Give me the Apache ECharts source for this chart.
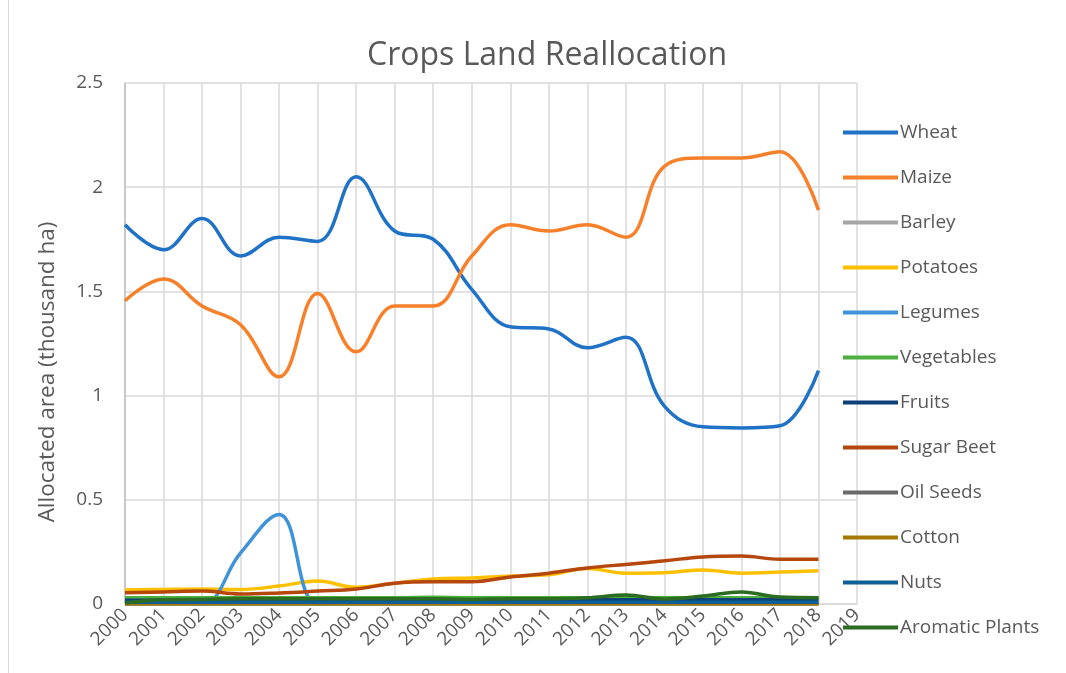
<!DOCTYPE html>
<html>
<head>
<meta charset="utf-8">
<script src="https://cdn.jsdelivr.net/npm/echarts@6/dist/echarts.min.js"></script>
<style>
  html, body { margin: 0; padding: 0; background: #fff; }
  #chart { width: 1066px; height: 673px; }
</style>
</head>
<body>
<div id="chart"></div>
<script>
var years = ['2000', '2001', '2002', '2003', '2004', '2005', '2006', '2007', '2008', '2009',
             '2010', '2011', '2012', '2013', '2014', '2015', '2016', '2017', '2018', '2019'];

var wheat = [1.82, 1.70, 1.85, 1.67, 1.76, 1.74, 2.05, 1.79, 1.75, 1.51, 1.33, 1.32, 1.23, 1.28, 0.95, 0.85, 0.845, 0.855, 1.12];
var maize = [1.455, 1.56, 1.43, 1.34, 1.09, 1.49, 1.21, 1.43, 1.43, 1.67, 1.82, 1.79, 1.82, 1.76, 2.10, 2.14, 2.14, 2.17, 1.89];
var barley = [0, 0, 0, 0, 0, 0, 0, 0, 0, 0, 0, 0, 0, 0, 0, 0, 0, 0, 0];
var potatoes = [0.067, 0.07, 0.072, 0.07, 0.086, 0.11, 0.08, 0.10, 0.12, 0.125, 0.134, 0.14, 0.17, 0.148, 0.15, 0.163, 0.148, 0.153, 0.16];
var legumes = [0.02, 0.02, 0, 0.245, 0.43, 0, 0.005, 0.005, 0.005, 0.005, 0.005, 0.005, 0.005, 0.005, 0.005, 0.005, 0.005, 0.005, 0.005];
var vegetables = [0.03, 0.03, 0.03, 0.03, 0.03, 0.03, 0.03, 0.03, 0.032, 0.03, 0.03, 0.03, 0.03, 0.03, 0.03, 0.03, 0.03, 0.03, 0.03];
var fruits = [0.018, 0.018, 0.018, 0.018, 0.018, 0.018, 0.018, 0.018, 0.02, 0.02, 0.02, 0.02, 0.02, 0.02, 0.02, 0.02, 0.02, 0.02, 0.02];
var sugarBeet = [0.054, 0.058, 0.062, 0.048, 0.053, 0.062, 0.072, 0.10, 0.107, 0.107, 0.13, 0.148, 0.173, 0.19, 0.207, 0.226, 0.23, 0.215, 0.215];
var oilSeeds = [0, 0, 0, 0, 0, 0, 0, 0, 0, 0, 0, 0, 0, 0, 0, 0, 0, 0, 0];
var cotton = [0, 0, 0, 0, 0, 0, 0, 0, 0, 0, 0, 0, 0, 0, 0, 0, 0, 0, 0];
var nuts = [0.008, 0.008, 0.008, 0.008, 0.008, 0.008, 0.008, 0.008, 0.008, 0.008, 0.008, 0.008, 0.008, 0.008, 0.008, 0.008, 0.008, 0.008, 0.008];
var aromatic = [0.005, 0.02, 0.022, 0.025, 0.025, 0.025, 0.025, 0.025, 0.025, 0.022, 0.025, 0.025, 0.03, 0.043, 0.024, 0.038, 0.058, 0.033, 0.03];

var names = ['Wheat', 'Maize', 'Barley', 'Potatoes', 'Legumes', 'Vegetables', 'Fruits',
             'Sugar Beet', 'Oil Seeds', 'Cotton', 'Nuts', 'Aromatic Plants'];
var values = [wheat, maize, barley, potatoes, legumes, vegetables, fruits,
              sugarBeet, oilSeeds, cotton, nuts, aromatic];
var colors = ['#1F72C6', '#F7802A', '#A5A5A5', '#FFC000', '#3F93D8', '#4CAF3F', '#0D3F78',
              '#B5460C', '#6A6A6A', '#A67800', '#0F5F96', '#2B6B22'];

var font = 'Open Sans';

var series = names.map(function (n, i) {
    return {
        name: n,
        type: 'line',
        data: values[i],
        smooth: 0.4,
        symbol: 'none',
        lineStyle: { width: 3.5, color: colors[i] },
        itemStyle: { color: colors[i] }
    };
});

var option = {
    animation: false,
    color: colors,
    title: {
        text: 'Crops Land Reallocation',
        left: 362,
        top: 35,
        textStyle: { fontFamily: font, fontSize: 32, fontWeight: 'normal', color: '#595959' }
    },
    legend: {
        orient: 'vertical',
        left: 838,
        top: 116,
        icon: 'rect',
        itemWidth: 55,
        itemHeight: 4,
        itemGap: 22,
        data: names,
        textStyle: { fontFamily: font, fontSize: 19, color: '#595959', lineHeight: 23, padding: [0, 0, 0, -3] }
    },
    grid: { left: 125, right: 209, top: 83, bottom: 69, containLabel: false },
    xAxis: {
        type: 'category',
        data: years,
        boundaryGap: false,
        axisLine: { lineStyle: { color: '#D9D9D9', width: 1.5 } },
        axisTick: { show: false },
        splitLine: { show: true, lineStyle: { color: '#D9D9D9', width: 1.5 } },
        axisLabel: {
            rotate: 45,
            interval: 0,
            margin: 8,
            fontFamily: font,
            fontSize: 19,
            color: '#595959'
        }
    },
    yAxis: {
        type: 'value',
        min: 0,
        max: 2.5,
        interval: 0.5,
        axisLine: { show: true, lineStyle: { color: '#BFBFBF', width: 1.5 } },
        axisTick: { show: false },
        splitLine: { lineStyle: { color: '#D9D9D9', width: 1.5 } },
        axisLabel: {
            margin: 22,
            fontFamily: font,
            fontSize: 19,
            color: '#595959',
            formatter: function (v) { return String(v); }
        }
    },
    graphic: [{
        type: 'rect',
        shape: { x: 8.5, y: -2, width: 1070, height: 680 },
        style: { fill: 'none', stroke: '#D9D9D9', lineWidth: 1 },
        silent: true
    }, {
        type: 'text',
        x: 48,
        y: 372,
        rotation: Math.PI / 2,
        style: {
            text: 'Allocated area (thousand ha)',
            fontFamily: font,
            fontSize: 22.5,
            fill: '#595959',
            align: 'center',
            verticalAlign: 'middle'
        },
        silent: true
    }],
    series: series
};

var myChart = echarts.init(document.getElementById('chart'));
myChart.setOption(option);
</script>
</body>
</html>
